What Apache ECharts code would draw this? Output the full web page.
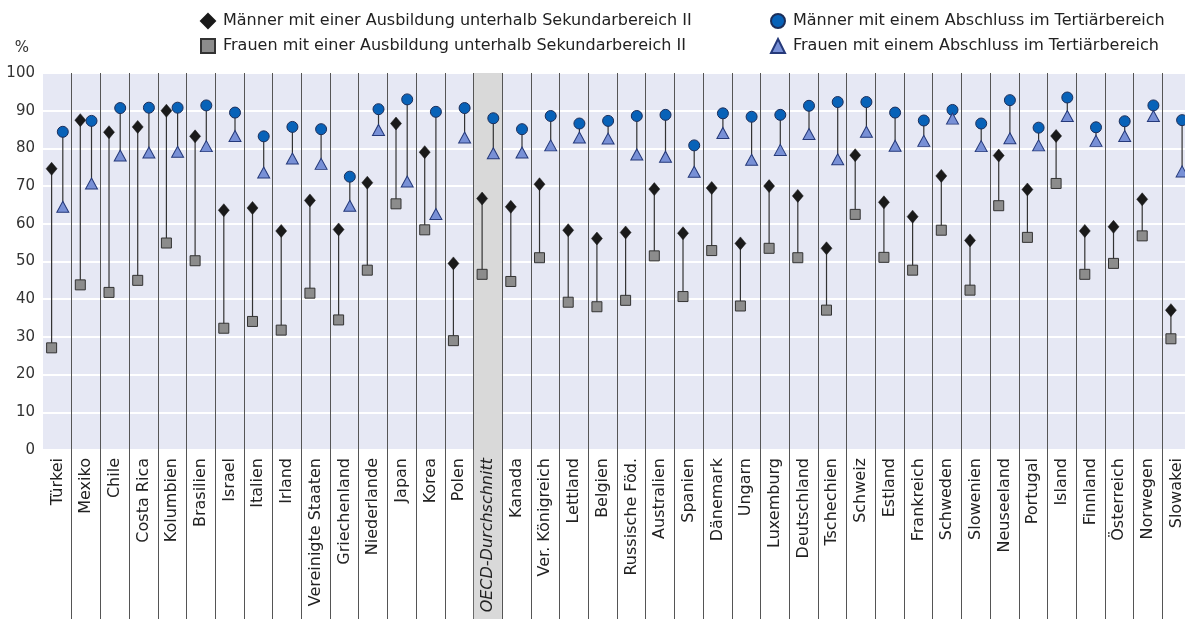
<!DOCTYPE html>
<html>
<head>
<meta charset="utf-8">
<script src="https://cdn.jsdelivr.net/npm/echarts@6/dist/echarts.min.js"></script>
<style>
  html, body { margin: 0; padding: 0; background: #fff; }
  #chart { width: 1185px; height: 619px; overflow: hidden; }
</style>
</head>
<body>
<div id="chart"></div>
<script>
// Countries, ordered as drawn from left to right
const categories = [
  'Türkei', 'Mexiko', 'Chile', 'Costa Rica', 'Kolumbien', 'Brasilien', 'Israel', 'Italien',
  'Irland', 'Vereinigte Staaten', 'Griechenland', 'Niederlande', 'Japan', 'Korea', 'Polen',
  'OECD-Durchschnitt', 'Kanada', 'Ver. Königreich', 'Lettland', 'Belgien', 'Russische Föd.',
  'Australien', 'Spanien', 'Dänemark', 'Ungarn', 'Luxemburg', 'Deutschland', 'Tschechien',
  'Schweiz', 'Estland', 'Frankreich', 'Schweden', 'Slowenien', 'Neuseeland', 'Portugal',
  'Island', 'Finnland', 'Österreich', 'Norwegen', 'Slowakei'
];

// Employment rates in %
const menBelowUpperSecondary = [
  74.6, 87.5, 84.3, 85.7, 90.0, 83.2, 63.6, 64.2, 58.1, 66.2,
  58.5, 70.9, 86.6, 79.0, 49.5, 66.7, 64.5, 70.5, 58.3, 56.1,
  57.7, 69.2, 57.5, 69.5, 54.8, 70.0, 67.4, 53.5, 78.2, 65.7,
  61.9, 72.7, 55.6, 78.1, 69.1, 83.3, 58.1, 59.2, 66.5, 37.1
];
const womenBelowUpperSecondary = [
  27.1, 43.8, 41.8, 45.0, 54.9, 50.2, 32.3, 34.1, 31.8, 41.6,
  34.5, 47.7, 65.3, 58.4, 29.0, 46.6, 44.7, 51.0, 39.2, 38.0,
  39.7, 51.5, 40.7, 52.9, 38.2, 53.5, 51.0, 37.1, 62.5, 51.1,
  47.7, 58.3, 42.4, 64.8, 56.4, 70.7, 46.6, 49.5, 56.8, 29.5
];
const menTertiary = [
  84.4, 87.3, 90.7, 90.8, 90.8, 91.4, 89.5, 83.2, 85.7, 85.1,
  72.5, 90.4, 93.0, 89.7, 90.7, 88.0, 85.1, 88.6, 86.6, 87.3,
  88.6, 88.9, 80.8, 89.3, 88.4, 88.9, 91.3, 92.3, 92.3, 89.5,
  87.4, 90.2, 86.6, 92.8, 85.5, 93.5, 85.6, 87.2, 91.4, 87.5
];
const womenTertiary = [
  64.5, 70.7, 78.1, 78.9, 79.1, 80.6, 83.3, 73.6, 77.3, 75.9,
  64.8, 84.9, 71.2, 62.6, 82.9, 78.7, 78.9, 80.8, 82.9, 82.6,
  78.4, 77.8, 73.8, 84.1, 77.0, 79.6, 83.8, 77.1, 84.4, 80.7,
  82.0, 87.9, 80.6, 82.7, 80.8, 88.6, 82.0, 83.3, 88.6, 73.9
];

const yTicks = [0, 10, 20, 30, 40, 50, 60, 70, 80, 90, 100];
const averageName = 'OECD-Durchschnitt';

const names = {
  menBelow: 'Männer mit einer Ausbildung unterhalb Sekundarbereich II',
  womenBelow: 'Frauen mit einer Ausbildung unterhalb Sekundarbereich II',
  menTert: 'Männer mit einem Abschluss im Tertiärbereich',
  womenTert: 'Frauen mit einem Abschluss im Tertiärbereich'
};

// Each country gets a band of width 1 on the hidden value axis;
// the lower-education pair sits left of centre, the tertiary pair right of it.
const LEFT = 0.3, RIGHT = 0.69;
const pts = (arr, off) => arr.map((v, i) => [i + off, v]);
const pairs = (a, b, off) => a.map((v, i) => [i + off, v, b[i]]);

const FONT = 'DejaVu Sans';

function connector(params, api) {
  const a = api.coord([api.value(0), api.value(1)]);
  const b = api.coord([api.value(0), api.value(2)]);
  return {
    type: 'line',
    shape: { x1: a[0], y1: a[1], x2: b[0], y2: b[1] },
    style: { stroke: '#333', lineWidth: 1.2 }
  };
}

const averageIndex = categories.indexOf(averageName);

const legendText = { fontFamily: FONT, fontSize: 16, color: '#222', lineHeight: 16, padding: [0, 0, 0, 3] };

const chart = echarts.init(document.getElementById('chart'), null, { renderer: 'canvas' });
chart.setOption({
  animation: false,
  textStyle: { fontFamily: FONT },
  legend: [
    {
      orient: 'vertical', left: 195, top: 8, itemGap: 9,
      itemWidth: 14, itemHeight: 14, textStyle: legendText,
      data: [names.menBelow, names.womenBelow]
    },
    {
      orient: 'vertical', left: 765, top: 8, itemGap: 9,
      itemWidth: 14, itemHeight: 14, textStyle: legendText,
      data: [names.menTert, names.womenTert]
    }
  ],
  // the last band runs a little past the right edge of the canvas
  grid: {
    left: 43, width: 1148, top: 73, bottom: 169,
    outerBoundsMode: 'none', containLabel: false,
    show: true, backgroundColor: '#e6e8f4', borderWidth: 0
  },
  xAxis: [
    {
      type: 'category', data: categories, boundaryGap: true, z: 3,
      axisLine: { show: false },
      axisTick: {
        show: true, length: 170, interval: (i) => i !== 0,
        lineStyle: { color: '#555', width: 1 }
      },
      splitLine: {
        show: true, interval: (i) => i !== 0,
        lineStyle: { color: '#555', width: 1 }
      },
      axisLabel: {
        interval: 0, rotate: 90, margin: 0,
        fontFamily: FONT, fontSize: 16, color: '#222',
        formatter: (v) => v === averageName ? '{avg|' + v + '}' : '{n|' + v + '}',
        rich: {
          n: { fontFamily: FONT, fontSize: 16, color: '#222', padding: [0, 8, 0, 0] },
          avg: {
            fontFamily: FONT, fontSize: 16, color: '#222', fontStyle: 'italic',
            backgroundColor: '#d9d9d9', width: 161, height: 28, align: 'right',
            padding: [0, 8, 0, 0]
          }
        }
      }
    },
    { type: 'value', min: 0, max: categories.length, show: false }
  ],
  yAxis: {
    type: 'value', min: yTicks[0], max: yTicks[yTicks.length - 1], interval: 10,
    name: '%', nameLocation: 'end', nameGap: 17,
    nameTextStyle: { fontFamily: FONT, fontSize: 15, color: '#333', align: 'right', padding: [0, 14, 0, 0] },
    axisLine: { show: false }, axisTick: { show: false },
    axisLabel: { fontFamily: FONT, fontSize: 15, color: '#333', margin: 8 },
    splitLine: { show: true, lineStyle: { color: '#ffffff', width: 2 } }
  },
  series: [
    {
      type: 'custom', name: 'lowerPairs', xAxisIndex: 1, z: 2,
      renderItem: connector, encode: { x: 0, y: [1, 2] },
      data: pairs(menBelowUpperSecondary, womenBelowUpperSecondary, LEFT),
      markArea: {
        silent: true,
        itemStyle: { color: '#d9d9d9' },
        data: [[{ xAxis: averageIndex }, { xAxis: averageIndex + 1 }]]
      }
    },
    {
      type: 'custom', name: 'tertiaryPairs', xAxisIndex: 1, z: 2,
      renderItem: connector, encode: { x: 0, y: [1, 2] },
      data: pairs(menTertiary, womenTertiary, RIGHT)
    },
    {
      type: 'scatter', name: names.menBelow, xAxisIndex: 1, z: 4,
      symbol: 'diamond', symbolSize: [11, 13],
      itemStyle: { color: '#1a1a1a', borderColor: '#1a1a1a', borderWidth: 0.5, opacity: 1 },
      data: pts(menBelowUpperSecondary, LEFT)
    },
    {
      type: 'scatter', name: names.womenBelow, xAxisIndex: 1, z: 4,
      symbol: 'rect', symbolSize: 10,
      itemStyle: { color: '#8c8c8c', borderColor: '#333', borderWidth: 1, opacity: 1 },
      data: pts(womenBelowUpperSecondary, LEFT)
    },
    {
      type: 'scatter', name: names.menTert, xAxisIndex: 1, z: 4,
      symbol: 'circle', symbolSize: 11,
      itemStyle: { color: '#0862b8', borderColor: '#1c2e5a', borderWidth: 1, opacity: 1 },
      data: pts(menTertiary, RIGHT)
    },
    {
      type: 'scatter', name: names.womenTert, xAxisIndex: 1, z: 4,
      symbol: 'triangle', symbolSize: [12, 11],
      itemStyle: { color: '#7890d6', borderColor: '#25397a', borderWidth: 1, opacity: 1 },
      data: pts(womenTertiary, RIGHT)
    }
  ]
});
</script>
</body>
</html>
